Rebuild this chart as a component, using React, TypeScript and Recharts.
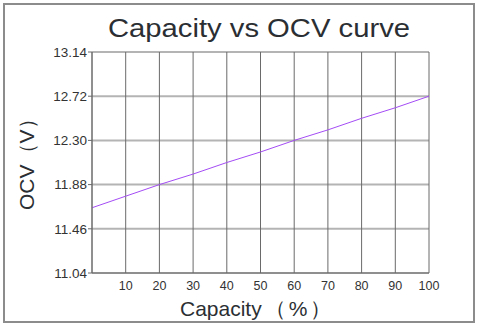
import { LineChart, Line, XAxis, YAxis, CartesianGrid, Label } from "recharts";

const capacity = [0, 10, 20, 30, 40, 50, 60, 70, 80, 90, 100];
const ocv = [11.66, 11.77, 11.88, 11.98, 12.09, 12.19, 12.3, 12.4, 12.51, 12.61, 12.72];
const xTicks = [10, 20, 30, 40, 50, 60, 70, 80, 90, 100];
const yTicks = [11.04, 11.46, 11.88, 12.3, 12.72, 13.14];

const data = capacity.map((c, i) => ({ capacity: c, ocv: ocv[i] }));

const font = "'Liberation Sans', Arial, sans-serif";

export default function App() {
  return (
    <div style={{ position: "absolute", left: 0, top: 0, width: 480, height: 326, background: "#fff" }}>
      <div
        style={{
          position: "absolute",
          left: 3,
          top: 3,
          width: 472,
          height: 320,
          boxSizing: "border-box",
          border: "2px solid #8c8c8c",
        }}
      />
      <svg style={{ position: "absolute", left: 0, top: 0 }} width={480} height={60}>
        <text
          x={108}
          y={37}
          fontFamily={font}
          fontSize={25}
          fill="#2b2f33"
          textLength={302}
          lengthAdjust="spacingAndGlyphs"
        >
          Capacity vs OCV curve
        </text>
      </svg>
      <div style={{ position: "absolute", left: 0, top: 0 }}>
        <LineChart width={480} height={326} data={data} margin={{ top: 52, right: 51, bottom: 23, left: 0 }}>
          <CartesianGrid horizontal={true} vertical={false} stroke="#b4b4b4" strokeWidth={2} />
          <CartesianGrid horizontal={false} vertical={true} stroke="#6a6a6a" strokeWidth={1} />
          <XAxis
            dataKey="capacity"
            type="number"
            domain={[0, 100]}
            ticks={xTicks}
            height={30}
            tickLine={false}
            tickSize={6}
            tickMargin={2}
            axisLine={{ stroke: "#6a6a6a" }}
            tick={{ fill: "#333", fontSize: 12.5, fontFamily: font }}
          >
            <Label
              content={() => (
                <text x={180} y={316} fontFamily={font} fontSize={21} fill="#2b2f33">
                  <tspan>Capacity</tspan>
                  <tspan dx={3} letterSpacing={3}>（%）</tspan>
                </text>
              )}
            />
          </XAxis>
          <YAxis
            type="number"
            domain={[11.04, 13.14]}
            ticks={yTicks}
            width={92}
            tickSize={4}
            tickMargin={1}
            interval={0}
            tickFormatter={(v: number) => v.toFixed(2)}
            axisLine={{ stroke: "#6a6a6a" }}
            tickLine={{ stroke: "#6a6a6a" }}
            tick={{ fill: "#333", fontSize: 13.5, fontFamily: font }}
          >
            <Label
              content={() => (
                <text
                  x={34}
                  y={210}
                  transform="rotate(-90 34 210)"
                  fontFamily={font}
                  fontSize={21}
                  fill="#2b2f33"
                >
                  <tspan>OCV</tspan>
                  <tspan dx={0}>（V）</tspan>
                </text>
              )}
            />
          </YAxis>
          <Line
            dataKey="ocv"
            stroke="#a44cf5"
            strokeWidth={1}
            dot={false}
            activeDot={false}
            isAnimationActive={false}
          />
        </LineChart>
      </div>
    </div>
  );
}
